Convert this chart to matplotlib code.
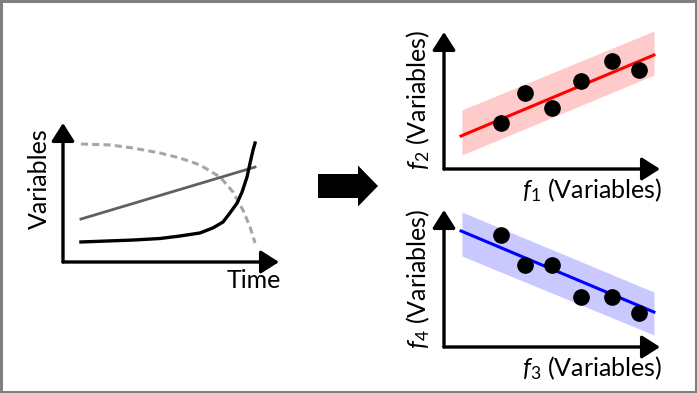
import matplotlib
matplotlib.use("Agg")
import matplotlib.pyplot as plt
from matplotlib import patches

plt.rcParams['font.family'] = ['Lato', 'DejaVu Sans']
plt.rcParams['mathtext.fontset'] = 'custom'
plt.rcParams['mathtext.it'] = 'Lato:italic'
plt.rcParams['mathtext.rm'] = 'Lato'

# ---------------- data ----------------
# left panel: conceptual time series (Time 0-10, Variables 0-10)
dash_t = [0.83, 2.18, 3.24, 4.49, 5.42, 6.34, 7.27, 7.87, 8.33, 8.66, 8.89]
dash_v = [8.49, 8.42, 8.20, 7.84, 7.48, 6.98, 6.12, 5.04, 3.74, 2.52, 1.37]
exp_t = [0.83, 3.24, 4.49, 5.42, 6.34, 6.94, 7.41, 7.73, 8.06, 8.29, 8.52, 8.66, 8.80, 8.89]
exp_v = [1.44, 1.58, 1.69, 1.87, 2.09, 2.45, 2.88, 3.53, 4.24, 5.04, 6.12, 7.12, 8.06, 8.56]
lin_t = [0.83, 8.89]
lin_v = [3.09, 6.83]

# top-right panel: f1 vs f2
f1 = [2.64, 3.75, 5.00, 6.34, 7.78, 9.03]
f2 = [3.36, 5.55, 4.45, 6.42, 7.88, 7.23]
fit12_x = [0.79, 9.72]
fit12_y = [2.41, 8.32]
band12_x = [0.83, 9.72]
band12_lo = [1.02, 6.86]
band12_hi = [4.31, 10.07]

# bottom-right panel: f3 vs f4
f3 = [2.64, 3.75, 5.00, 6.34, 7.78, 9.03]
f4 = [8.18, 5.99, 5.99, 3.65, 3.65, 2.48]
fit34_x = [0.79, 9.72]
fit34_y = [8.47, 2.55]
band34_x = [0.83, 9.72]
band34_lo = [6.64, 0.88]
band34_hi = [9.85, 4.01]

W, H = 697, 393
fig = plt.figure(figsize=(W / 100, H / 100), dpi=100)


def px_axes(x0, y0, x1, y1):
    return fig.add_axes([x0 / W, 1 - y1 / H, (x1 - x0) / W, (y1 - y0) / H])


def setup(ax):
    ax.set_xlim(0, 10)
    ax.set_ylim(0, 10)
    ax.axis('off')
    ap = dict(arrowstyle='-|>,head_length=0.55,head_width=0.35', lw=2.4,
              color='black', mutation_scale=20, shrinkA=0, shrinkB=0)
    ax.annotate('', xy=(1, 0), xytext=(0, 0), xycoords='axes fraction',
                arrowprops=ap, annotation_clip=False)
    ax.annotate('', xy=(0, 1), xytext=(0, 0), xycoords='axes fraction',
                arrowprops=ap, annotation_clip=False)


# overlay in pixel coordinates for border, arrow and text
ov = fig.add_axes([0, 0, 1, 1])
ov.set_xlim(0, W)
ov.set_ylim(H, 0)
ov.axis('off')
ov.add_patch(patches.Rectangle((1, 1), W - 2, H - 2, fill=False,
                               edgecolor='#808080', lw=2.2))
ov.add_patch(patches.FancyArrow(318, 186, 60, 0, width=24, head_width=41,
                                head_length=20, length_includes_head=True,
                                color='black', lw=0))

fs = 18
ov.text(39, 179, 'Variables', rotation=90, ha='center', va='center', fontsize=fs)
ov.text(254, 281, 'Time', ha='center', va='center', fontsize=fs)
ov.text(662, 190, r'$f_{\mathit{1}}$ (Variables)', ha='right', va='center', fontsize=fs)
ov.text(418, 100, r'$f_{\mathit{2}}$ (Variables)', rotation=90, ha='center', va='center', fontsize=fs)
ov.text(662, 368, r'$f_{\mathit{3}}$ (Variables)', ha='right', va='center', fontsize=fs)
ov.text(418, 279, r'$f_{\mathit{4}}$ (Variables)', rotation=90, ha='center', va='center', fontsize=fs)

# left panel
axL = px_axes(63, 123, 279, 262)
setup(axL)
axL.plot(dash_t, dash_v, color='#a6a6a6', lw=2.2, ls=(0, (2.3, 1.4)))
axL.plot(lin_t, lin_v, color='#606060', lw=2.0)
axL.plot(exp_t, exp_v, color='black', lw=2.4, solid_joinstyle='round')

# top-right panel
axA = px_axes(444, 32, 660, 169)
setup(axA)
axA.fill_between(band12_x, band12_lo, band12_hi, color='#ffcaca', lw=0)
axA.plot(fit12_x, fit12_y, color='#ff0000', lw=2.2)
axA.plot(f1, f2, 'o', color='black', ms=11)

# bottom-right panel
axB = px_axes(444, 210, 660, 347)
setup(axB)
axB.fill_between(band34_x, band34_lo, band34_hi, color='#c9c9ff', lw=0)
axB.plot(fit34_x, fit34_y, color='#0000ff', lw=2.2)
axB.plot(f3, f4, 'o', color='black', ms=11)

fig.savefig('out.png', dpi=100)
